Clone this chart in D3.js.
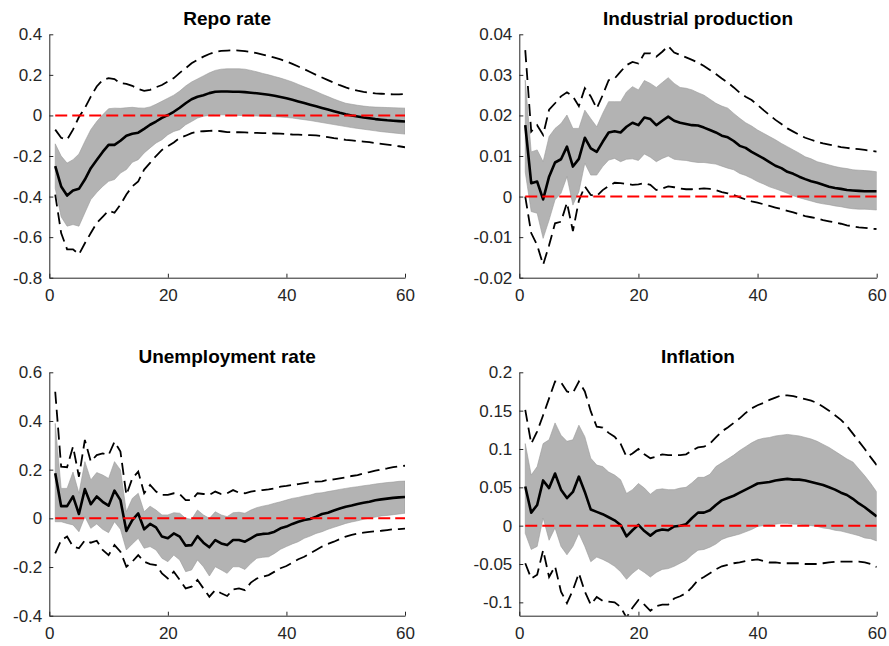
<!DOCTYPE html>
<html lang="en">
<head>
<meta charset="UTF-8">
<title>Impulse responses</title>
<script src="https://d3js.org/d3.v7.min.js"></script>
<style>
    html, body { margin: 0; background: #fff; }
    svg { display: block; font-family: 'Liberation Sans', Arial, Helvetica, sans-serif; }
    .axis path, .axis line { stroke: #262626; stroke-width: 1; }
    .axis text { fill: #262626; font-size: 17px; font-family: 'Liberation Sans', Arial, sans-serif; }
    .title { font-size: 19px; font-weight: bold; text-anchor: middle; fill: #000; }
</style>
</head>
<body>
<svg width="889" height="646"></svg>
<script>
    // horizons 1..60
    const horizon = d3.range(1, 61);
    const xTicks = [0, 20, 40, 60];

    // Repo rate
    const repoMed = [-0.25, -0.35, -0.395, -0.37, -0.362, -0.316, -0.26, -0.22, -0.18, -0.145, -0.145, -0.125, -0.10, -0.09, -0.085, -0.066, -0.046, -0.03, -0.012, 0.002, 0.018, 0.038, 0.06, 0.08, 0.092, 0.10, 0.11, 0.117, 0.118, 0.118, 0.117, 0.117, 0.115, 0.112, 0.109, 0.106, 0.102, 0.097, 0.091, 0.085, 0.077, 0.069, 0.061, 0.053, 0.045, 0.037, 0.029, 0.021, 0.013, 0.006, 0.0, -0.005, -0.01, -0.014, -0.018, -0.021, -0.024, -0.026, -0.028, -0.03];
    const repoHi68 = [-0.14, -0.2, -0.235, -0.218, -0.19, -0.128, -0.07, -0.03, 0.003, 0.033, 0.036, 0.035, 0.038, 0.04, 0.037, 0.036, 0.042, 0.055, 0.07, 0.085, 0.1, 0.12, 0.145, 0.165, 0.18, 0.195, 0.21, 0.222, 0.228, 0.23, 0.23, 0.23, 0.228, 0.222, 0.215, 0.207, 0.2, 0.192, 0.184, 0.175, 0.165, 0.153, 0.141, 0.13, 0.118, 0.105, 0.093, 0.081, 0.07, 0.06, 0.055, 0.05, 0.046, 0.043, 0.041, 0.04, 0.039, 0.038, 0.037, 0.036];
    const repoLo68 = [-0.36, -0.5, -0.546, -0.538, -0.546, -0.48, -0.415, -0.38, -0.35, -0.325, -0.316, -0.284, -0.267, -0.231, -0.218, -0.185, -0.16, -0.136, -0.12, -0.095, -0.079, -0.07, -0.046, -0.03, -0.013, -0.004, 0.0, 0.003, 0.003, 0.002, 0.001, 0.0, -0.001, -0.002, -0.003, -0.004, -0.005, -0.006, -0.008, -0.01, -0.013, -0.017, -0.021, -0.025, -0.03, -0.035, -0.04, -0.045, -0.05, -0.055, -0.06, -0.064, -0.068, -0.072, -0.076, -0.08, -0.083, -0.086, -0.089, -0.092];
    const repoHi90 = [-0.07, -0.11, -0.12, -0.07, -0.008, 0.036, 0.093, 0.143, 0.175, 0.184, 0.179, 0.159, 0.156, 0.146, 0.13, 0.121, 0.126, 0.139, 0.15, 0.167, 0.184, 0.21, 0.233, 0.257, 0.274, 0.29, 0.303, 0.313, 0.318, 0.32, 0.321, 0.32, 0.317, 0.313, 0.307, 0.3, 0.293, 0.285, 0.276, 0.266, 0.254, 0.241, 0.228, 0.214, 0.2, 0.187, 0.174, 0.161, 0.149, 0.138, 0.129, 0.122, 0.116, 0.112, 0.109, 0.107, 0.105, 0.104, 0.104, 0.106];
    const repoLo90 = [-0.39, -0.58, -0.66, -0.66, -0.685, -0.63, -0.58, -0.53, -0.5, -0.47, -0.48, -0.44, -0.39, -0.35, -0.325, -0.267, -0.234, -0.2, -0.17, -0.152, -0.133, -0.11, -0.1, -0.087, -0.08, -0.078, -0.076, -0.075, -0.078, -0.082, -0.083, -0.083, -0.084, -0.085, -0.086, -0.087, -0.088, -0.089, -0.09, -0.092, -0.094, -0.095, -0.096, -0.097, -0.098, -0.102, -0.107, -0.112, -0.116, -0.12, -0.123, -0.126, -0.129, -0.132, -0.136, -0.14, -0.144, -0.148, -0.152, -0.157];
    const repoTicks = [-0.8, -0.6, -0.4, -0.2, 0, 0.2, 0.4];

    // Industrial production
    const ipMed = [0.0176, 0.0033, 0.0037, -0.0007, 0.0049, 0.0084, 0.0092, 0.0123, 0.0074, 0.0093, 0.0145, 0.0119, 0.011, 0.0135, 0.0158, 0.0161, 0.0158, 0.0172, 0.0182, 0.0176, 0.0195, 0.0191, 0.0176, 0.0187, 0.0197, 0.0187, 0.0182, 0.0179, 0.0176, 0.0175, 0.017, 0.0164, 0.0158, 0.015, 0.0146, 0.0137, 0.0125, 0.012, 0.011, 0.0102, 0.0094, 0.0085, 0.0076, 0.007, 0.0061, 0.0056, 0.0049, 0.0043, 0.0038, 0.0034, 0.0029, 0.0024, 0.0021, 0.0019, 0.0016, 0.0015, 0.0014, 0.0013, 0.0013, 0.0013];
    const ipHi68 = [0.0287, 0.011, 0.0115, 0.0086, 0.0148, 0.0168, 0.018, 0.0201, 0.0168, 0.0168, 0.0213, 0.0192, 0.0172, 0.0205, 0.0234, 0.0234, 0.0234, 0.0258, 0.0271, 0.0263, 0.0286, 0.0279, 0.0269, 0.0281, 0.0293, 0.0279, 0.0269, 0.0267, 0.0263, 0.0256, 0.025, 0.024, 0.023, 0.0223, 0.0218, 0.0205, 0.0193, 0.0182, 0.0174, 0.0164, 0.0156, 0.0148, 0.014, 0.0131, 0.0123, 0.0115, 0.0107, 0.0098, 0.0093, 0.0086, 0.0082, 0.0078, 0.0074, 0.0071, 0.0069, 0.0066, 0.0065, 0.0064, 0.0063, 0.0061];
    const ipLo68 = [0.006, -0.0037, -0.0041, -0.0103, -0.0058, -0.0008, 0.0008, 0.0049, -0.0021, 0.0012, 0.0082, 0.0053, 0.0053, 0.0074, 0.009, 0.0094, 0.0086, 0.0092, 0.0093, 0.0089, 0.0105, 0.0097, 0.0086, 0.0094, 0.01, 0.0092, 0.009, 0.0089, 0.0086, 0.0084, 0.0084, 0.0082, 0.008, 0.0075, 0.007, 0.0066, 0.0057, 0.0052, 0.0045, 0.0037, 0.0031, 0.0024, 0.0019, 0.0014, 0.0008, 0.0002, -0.0003, -0.0007, -0.0011, -0.0015, -0.0018, -0.002, -0.0023, -0.0025, -0.0028, -0.003, -0.0031, -0.0031, -0.0032, -0.0033];
    const ipHi90 = [0.0361, 0.016, 0.0176, 0.0152, 0.0214, 0.023, 0.0247, 0.0257, 0.0247, 0.0223, 0.0267, 0.0247, 0.0217, 0.025, 0.0287, 0.0291, 0.0308, 0.0324, 0.0332, 0.0328, 0.0353, 0.0353, 0.0345, 0.0357, 0.0371, 0.0355, 0.0349, 0.0343, 0.0337, 0.033, 0.0322, 0.0312, 0.0302, 0.0291, 0.0281, 0.0269, 0.0256, 0.0246, 0.0238, 0.0226, 0.0213, 0.0201, 0.0189, 0.0179, 0.0168, 0.016, 0.0152, 0.0145, 0.014, 0.0135, 0.0131, 0.0128, 0.0125, 0.0122, 0.012, 0.0118, 0.0117, 0.0115, 0.0113, 0.0111];
    const ipLo90 = [0.0, -0.009, -0.012, -0.0168, -0.012, -0.0066, -0.0062, -0.0015, -0.0085, -0.001, 0.0025, 0.0004, 0.0001, 0.0016, 0.0026, 0.0034, 0.0033, 0.0031, 0.0029, 0.003, 0.0033, 0.0029, 0.0016, 0.002, 0.0025, 0.0023, 0.002, 0.0018, 0.0018, 0.0019, 0.002, 0.0019, 0.0016, 0.0011, 0.0008, 0.0004, -0.0002, -0.0007, -0.0012, -0.0015, -0.0019, -0.0023, -0.0027, -0.0031, -0.0035, -0.0039, -0.0044, -0.0048, -0.0051, -0.0054, -0.0058, -0.0061, -0.0064, -0.0067, -0.0071, -0.0073, -0.0076, -0.0077, -0.0079, -0.008];
    const ipTicks = [-0.02, -0.01, 0, 0.01, 0.02, 0.03, 0.04];

    // Unemployment rate
    const unMed = [0.185, 0.05, 0.05, 0.09, 0.018, 0.12, 0.058, 0.09, 0.068, 0.052, 0.114, 0.075, -0.052, -0.007, 0.02, -0.045, -0.023, -0.037, -0.075, -0.082, -0.062, -0.075, -0.112, -0.11, -0.073, -0.1, -0.119, -0.089, -0.103, -0.11, -0.089, -0.089, -0.096, -0.082, -0.068, -0.064, -0.062, -0.055, -0.041, -0.034, -0.023, -0.014, -0.007, -0.003, 0.007, 0.018, 0.023, 0.032, 0.04, 0.048, 0.053, 0.059, 0.064, 0.068, 0.074, 0.078, 0.081, 0.084, 0.086, 0.088];
    const unHi68 = [0.39, 0.123, 0.123, 0.19, 0.103, 0.233, 0.158, 0.188, 0.178, 0.164, 0.233, 0.199, 0.027, 0.082, 0.103, 0.027, 0.05, 0.034, 0.014, 0.014, 0.023, 0.021, 0.0, -0.004, 0.034, 0.014, 0.0, 0.027, 0.014, 0.007, 0.023, 0.025, 0.021, 0.034, 0.044, 0.05, 0.055, 0.062, 0.068, 0.075, 0.082, 0.086, 0.092, 0.096, 0.103, 0.105, 0.11, 0.114, 0.119, 0.123, 0.127, 0.13, 0.134, 0.137, 0.141, 0.144, 0.147, 0.149, 0.152, 0.153];
    const unLo68 = [-0.014, -0.014, -0.021, -0.027, -0.055, 0.007, -0.041, -0.023, -0.045, -0.059, -0.014, -0.045, -0.13, -0.105, -0.082, -0.123, -0.116, -0.13, -0.164, -0.178, -0.151, -0.171, -0.219, -0.212, -0.171, -0.199, -0.237, -0.199, -0.212, -0.226, -0.199, -0.199, -0.21, -0.185, -0.164, -0.16, -0.158, -0.144, -0.127, -0.116, -0.105, -0.096, -0.082, -0.073, -0.062, -0.055, -0.045, -0.037, -0.029, -0.021, -0.015, -0.01, -0.004, 0.001, 0.005, 0.01, 0.012, 0.015, 0.018, 0.021];
    const unHi90 = [0.52, 0.212, 0.21, 0.295, 0.171, 0.322, 0.233, 0.26, 0.267, 0.26, 0.315, 0.274, 0.096, 0.164, 0.192, 0.103, 0.137, 0.11, 0.096, 0.096, 0.103, 0.1, 0.075, 0.075, 0.103, 0.1, 0.096, 0.11, 0.1, 0.103, 0.116, 0.105, 0.103, 0.11, 0.114, 0.116, 0.119, 0.123, 0.13, 0.133, 0.137, 0.141, 0.145, 0.149, 0.151, 0.152, 0.158, 0.16, 0.164, 0.168, 0.174, 0.178, 0.185, 0.19, 0.196, 0.201, 0.205, 0.21, 0.214, 0.216];
    const unLo90 = [-0.144, -0.09, -0.075, -0.116, -0.123, -0.09, -0.1, -0.092, -0.13, -0.151, -0.11, -0.137, -0.199, -0.178, -0.151, -0.178, -0.188, -0.192, -0.226, -0.247, -0.219, -0.253, -0.288, -0.281, -0.253, -0.288, -0.322, -0.295, -0.308, -0.319, -0.292, -0.288, -0.295, -0.264, -0.247, -0.24, -0.233, -0.219, -0.205, -0.196, -0.182, -0.168, -0.158, -0.144, -0.13, -0.116, -0.105, -0.096, -0.085, -0.075, -0.068, -0.063, -0.059, -0.056, -0.053, -0.051, -0.048, -0.045, -0.044, -0.042];
    const unTicks = [-0.4, -0.2, 0, 0.2, 0.4, 0.6];

    // Inflation
    const infMed = [0.051, 0.017, 0.027, 0.059, 0.049, 0.068, 0.047, 0.036, 0.044, 0.064, 0.044, 0.021, 0.018, 0.015, 0.011, 0.007, 0.001, -0.014, -0.006, 0.001, -0.007, -0.013, -0.007, -0.005, -0.006, -0.001, 0.0, 0.002, 0.01, 0.017, 0.017, 0.02, 0.027, 0.033, 0.036, 0.039, 0.043, 0.047, 0.051, 0.055, 0.056, 0.057, 0.059, 0.06, 0.061, 0.06, 0.06, 0.059, 0.057, 0.055, 0.053, 0.05, 0.047, 0.043, 0.04, 0.035, 0.029, 0.024, 0.018, 0.012];
    const infHi68 = [0.107, 0.066, 0.077, 0.107, 0.112, 0.134, 0.118, 0.11, 0.112, 0.131, 0.116, 0.088, 0.079, 0.077, 0.07, 0.066, 0.06, 0.042, 0.047, 0.055, 0.049, 0.041, 0.047, 0.048, 0.047, 0.047, 0.049, 0.05, 0.056, 0.063, 0.063, 0.067, 0.077, 0.082, 0.087, 0.092, 0.098, 0.103, 0.108, 0.112, 0.114, 0.115, 0.117, 0.118, 0.119, 0.118, 0.117, 0.115, 0.113, 0.11, 0.106, 0.102, 0.097, 0.092, 0.087, 0.083, 0.074, 0.065, 0.055, 0.044];
    const infLo68 = [-0.01, -0.031, -0.027, 0.01, -0.019, -0.003, -0.027, -0.038, -0.027, -0.01, -0.027, -0.047, -0.041, -0.044, -0.048, -0.053, -0.06, -0.07, -0.062, -0.056, -0.061, -0.067, -0.061, -0.057, -0.056, -0.053, -0.049, -0.045, -0.038, -0.032, -0.031, -0.028, -0.024, -0.018, -0.015, -0.013, -0.011, -0.008, -0.005, -0.001, 0.0, 0.001, 0.002, 0.003, 0.003, 0.002, 0.002, 0.001, 0.0, -0.001, -0.003, -0.004, -0.006, -0.007, -0.009, -0.011, -0.013, -0.016, -0.017, -0.02];
    const infHi90 = [0.151, 0.107, 0.123, 0.144, 0.166, 0.188, 0.187, 0.175, 0.173, 0.188, 0.175, 0.149, 0.129, 0.128, 0.121, 0.116, 0.107, 0.09, 0.094, 0.1, 0.093, 0.088, 0.09, 0.093, 0.092, 0.092, 0.092, 0.093, 0.098, 0.102, 0.103, 0.107, 0.115, 0.123, 0.128, 0.134, 0.14, 0.147, 0.153, 0.157, 0.16, 0.164, 0.167, 0.17, 0.17, 0.169, 0.167, 0.165, 0.163, 0.16, 0.155, 0.15, 0.144, 0.138, 0.13, 0.12, 0.11, 0.1, 0.089, 0.079];
    const infLo90 = [-0.049, -0.069, -0.064, -0.032, -0.067, -0.053, -0.086, -0.101, -0.084, -0.062, -0.086, -0.103, -0.093, -0.098, -0.099, -0.1, -0.106, -0.12, -0.107, -0.097, -0.103, -0.111, -0.105, -0.103, -0.103, -0.095, -0.092, -0.088, -0.08, -0.071, -0.067, -0.062, -0.057, -0.053, -0.051, -0.049, -0.048, -0.046, -0.045, -0.044, -0.046, -0.048, -0.048, -0.049, -0.049, -0.049, -0.049, -0.05, -0.05, -0.05, -0.049, -0.048, -0.047, -0.047, -0.047, -0.047, -0.047, -0.048, -0.05, -0.054];
    const infTicks = [-0.1, -0.05, 0, 0.05, 0.1, 0.15, 0.2];

    const titles = ["Repo rate", "Industrial production", "Unemployment rate", "Inflation"];
    const yDomains = [[-0.8, 0.4], [-0.02, 0.04], [-0.4, 0.6], [-0.1174, 0.2]];

    const panels = [
        { med: repoMed, lo68: repoLo68, hi68: repoHi68, lo90: repoLo90, hi90: repoHi90, ticks: repoTicks },
        { med: ipMed, lo68: ipLo68, hi68: ipHi68, lo90: ipLo90, hi90: ipHi90, ticks: ipTicks },
        { med: unMed, lo68: unLo68, hi68: unHi68, lo90: unLo90, hi90: unHi90, ticks: unTicks },
        { med: infMed, lo68: infLo68, hi68: infHi68, lo90: infLo90, hi90: infHi90, ticks: infTicks }
    ];

    // plot boxes [left, top, right, bottom]
    const boxes = [
        [49.3, 34.3, 405, 277.7],
        [519.3, 34.3, 876.7, 277.7],
        [49.3, 372.3, 405, 615.7],
        [519.3, 372.3, 876.7, 615.7]
    ];

    const svg = d3.select("svg");

    panels.forEach((p, k) => {
        const [left, top, right, bottom] = boxes[k];
        const x = d3.scaleLinear().domain([0, 60]).range([left, right]);
        const y = d3.scaleLinear().domain(yDomains[k]).range([bottom, top]);

        const g = svg.append("g");

        g.append("clipPath").attr("id", "clip" + k)
            .append("rect")
            .attr("x", left).attr("y", top)
            .attr("width", right - left).attr("height", bottom - top);

        const plot = g.append("g").attr("clip-path", `url(#clip${k})`);

        const band = d3.area()
            .x((d, i) => x(horizon[i]))
            .y0((d, i) => y(p.lo68[i]))
            .y1((d, i) => y(p.hi68[i]));

        const line = arr => d3.line()
            .x((d, i) => x(horizon[i]))
            .y(d => y(d))(arr);

        plot.append("path")
            .attr("d", band(p.med))
            .attr("fill", "#b3b3b3")
            .attr("stroke", "#9a9a9a")
            .attr("stroke-width", 0.6);

        plot.append("path")
            .attr("d", line(p.med))
            .attr("fill", "none")
            .attr("stroke", "#000")
            .attr("stroke-width", 2.6)
            .attr("stroke-linejoin", "round");

        [p.hi90, p.lo90].forEach(arr => {
            plot.append("path")
                .attr("d", line(arr))
                .attr("fill", "none")
                .attr("stroke", "#000")
                .attr("stroke-width", 1.8)
                .attr("stroke-dasharray", "12,6");
        });

        plot.append("path")
            .attr("d", line(horizon.map(() => 0)))
            .attr("fill", "none")
            .attr("stroke", "#ff0000")
            .attr("stroke-width", 2)
            .attr("stroke-dasharray", "12,5");

        // axes, ticks inside like matlab
        g.append("g")
            .attr("class", "axis")
            .attr("transform", `translate(0,${bottom})`)
            .call(d3.axisBottom(x).tickValues(xTicks).tickFormat(d => String(d))
                .tickSizeInner(-4).tickSizeOuter(0).tickPadding(11));

        g.append("g")
            .attr("class", "axis")
            .attr("transform", `translate(${left},0)`)
            .call(d3.axisLeft(y).tickValues(p.ticks).tickFormat(d => String(d))
                .tickSizeInner(-4).tickSizeOuter(0).tickPadding(7));

        g.selectAll(".axis .domain").attr("stroke", "#262626");

        g.append("text")
            .attr("class", "title")
            .attr("x", (left + right) / 2)
            .attr("y", top - 9.5)
            .text(titles[k]);
    });
</script>
</body>
</html>
